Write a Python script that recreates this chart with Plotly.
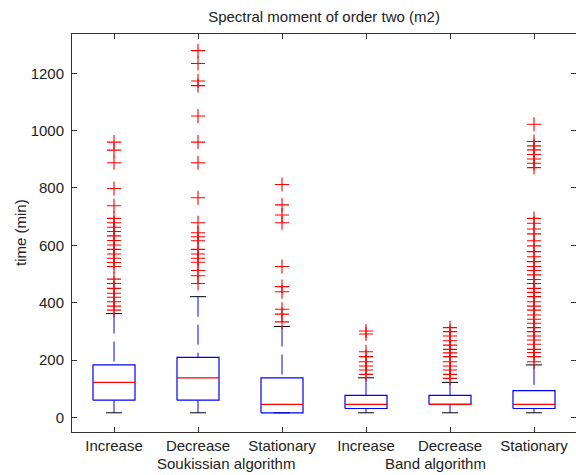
import plotly.graph_objects as go

categories = ["Increase", "Decrease", "Stationary", "Increase", "Decrease", "Stationary"]
groups = ["Soukissian algorithm", "Band algorithm"]
group_label_pos = [2.33, 4.83]

q1 = [60, 60, 16, 31, 45, 31]
median = [122, 138, 45, 45, 45, 45]
q3 = [183, 209, 138, 77, 77, 93]
lower_fence = [16, 16, 16, 16, 16, 16]
upper_fence = [362, 421, 317, 138, 122, 183]

outliers = [
    [960, 932, 888, 798, 738, 694, 679, 663, 648, 633, 617, 601, 586, 570, 555,
     540, 526, 482, 467, 450, 433, 419, 403, 388, 374],
    [1279, 1234, 1173, 1157, 1051, 960, 888, 766, 679, 644, 630, 616, 586, 570,
     555, 541, 512, 494, 467],
    [812, 741, 706, 679, 526, 456, 438, 377, 360, 333],
    [301, 291, 229, 212, 194, 179, 165, 150],
    [313, 299, 284, 267, 252, 237, 225, 212, 194, 179, 165, 150, 136],
    [1022, 962, 947, 933, 917, 901, 886, 871, 694, 677, 657, 640, 616, 598, 578,
     560, 543, 526, 512, 497, 481, 467, 450, 436, 421, 403, 388, 374, 357, 342,
     328, 313, 299, 284, 270, 255, 237, 226, 212, 194],
]

yticks = [0, 200, 400, 600, 800, 1000, 1200]

BOX_W = 0.5
CAP_W = 0.19
FONT = "Liberation Sans"
FS = 15

pos = list(range(1, len(categories) + 1))

bx, by, mx, my, wx, wy, cx, cy, ox, oy = [], [], [], [], [], [], [], [], [], []
for i, p in enumerate(pos):
    l, r = p - BOX_W / 2, p + BOX_W / 2
    bx += [l, r, r, l, l, None]
    by += [q1[i], q1[i], q3[i], q3[i], q1[i], None]
    mx += [l, r, None]
    my += [median[i], median[i], None]
    wx += [p, p, None, p, p, None]
    wy += [upper_fence[i], q3[i], None, q1[i], lower_fence[i], None]
    cx += [p - CAP_W / 2, p + CAP_W / 2, None, p - CAP_W / 2, p + CAP_W / 2, None]
    cy += [upper_fence[i], upper_fence[i], None, lower_fence[i], lower_fence[i], None]
    ox += [p] * len(outliers[i])
    oy += outliers[i]

fig = go.Figure()
fig.add_trace(go.Scatter(x=wx, y=wy, mode="lines",
                         line=dict(color="#0000ff", width=1, dash="20px,8px"),
                         hoverinfo="skip", showlegend=False))
fig.add_trace(go.Scatter(x=cx, y=cy, mode="lines",
                         line=dict(color="#000000", width=1),
                         hoverinfo="skip", showlegend=False))
fig.add_trace(go.Scatter(x=bx, y=by, mode="lines",
                         line=dict(color="#0000ff", width=1.2),
                         hoverinfo="skip", showlegend=False))
fig.add_trace(go.Scatter(x=mx, y=my, mode="lines",
                         line=dict(color="#ff0000", width=1.2),
                         hoverinfo="skip", showlegend=False))
fig.add_trace(go.Scatter(x=ox, y=oy, mode="markers",
                         marker=dict(symbol="cross-thin", size=10,
                                     line=dict(color="#ff0000", width=1.1)),
                         showlegend=False))

for g, gx in zip(groups, group_label_pos):
    fig.add_annotation(text=g, x=gx, xref="x", y=0, yref="paper",
                       yshift=-31, yanchor="middle", xanchor="center",
                       showarrow=False, font=dict(family=FONT, size=FS, color="#222"))

fig.add_annotation(text="time (min)", textangle=-90, x=0, xref="paper",
                   xshift=-52, xanchor="center", y=0.5, yref="paper",
                   yanchor="middle", showarrow=False,
                   font=dict(family=FONT, size=FS, color="#222"))

fig.update_layout(
    width=576, height=475,
    margin=dict(l=72, r=0, t=34, b=43),
    paper_bgcolor="white", plot_bgcolor="white",
    title=dict(text="Spectral moment of order two (m2)", x=0.5, xanchor="center",
               xref="paper", y=1 - 17 / 475, yref="container", yanchor="middle",
               font=dict(family=FONT, size=FS, color="#222")),
    font=dict(family=FONT, size=FS, color="#222"),
)
fig.update_xaxes(range=[0.5, 6.5], tickvals=pos, ticktext=categories,
                 ticks="inside", ticklen=5, tickcolor="#333", showline=True,
                 linecolor="#333", linewidth=1, mirror="ticks", showgrid=False,
                 zeroline=False, tickfont=dict(family=FONT, size=FS, color="#222"))
fig.update_yaxes(range=[-51, 1337], tickvals=yticks,
                 ticks="inside", ticklen=5, tickcolor="#333", showline=True,
                 linecolor="#333", linewidth=1, mirror="ticks", showgrid=False,
                 zeroline=False, ticklabelstandoff=4,
                 tickfont=dict(family=FONT, size=FS, color="#222"))

fig.write_html("out.html")
